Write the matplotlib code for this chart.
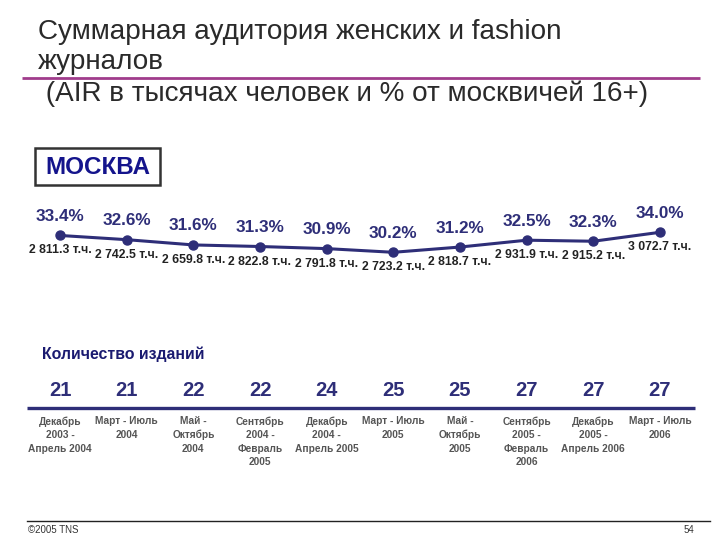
import matplotlib
matplotlib.use("Agg")
import matplotlib.pyplot as plt
from matplotlib.transforms import blended_transform_factory

plt.rcParams['font.family'] = ['Liberation Sans', 'DejaVu Sans']

# ---- data ----
share_pct = [33.4, 32.6, 31.6, 31.3, 30.9, 30.2, 31.2, 32.5, 32.3, 34.0]
audience_k = [2811.3, 2742.5, 2659.8, 2822.8, 2791.8, 2723.2, 2818.7, 2931.9, 2915.2, 3072.7]
issues = [21, 21, 22, 22, 24, 25, 25, 27, 27, 27]
periods = [
    "Декабрь\n2003 -\nАпрель 2004",
    "Март - Июль\n2004",
    "Май -\nОктябрь\n2004",
    "Сентябрь\n2004 -\nФевраль\n2005",
    "Декабрь\n2004 -\nАпрель 2005",
    "Март - Июль\n2005",
    "Май -\nОктябрь\n2005",
    "Сентябрь\n2005 -\nФевраль\n2006",
    "Декабрь\n2005 -\nАпрель 2006",
    "Март - Июль\n2006",
]
title_lines = ["Суммарная аудитория женских и fashion", "журналов",
               " (AIR в тысячах человек и % от москвичей 16+)"]

W, H = 720, 540
fig = plt.figure(figsize=(7.2, 5.4), dpi=100)
fig.patch.set_facecolor('white')

# overlay axes in pixel coordinates
ov = fig.add_axes([0, 0, 1, 1])
ov.set_xlim(0, W)
ov.set_ylim(H, 0)
ov.axis('off')

NAVY = '#2e2e78'
# title
title_y = [32, 62, 94]
for t, y in zip(title_lines, title_y):
    ov.text(38, y, t, fontsize=20.1, color='#2a2a2a', va='center', ha='left')
ov.plot([22, 700], [78, 78], color='#a03c8c', lw=2, solid_capstyle='butt')

# МОСКВА box
ov.add_patch(plt.Rectangle((35, 148), 125, 37, fill=False, ec='#333333', lw=1.8))
ov.text(98, 167, "МОСКВА", fontsize=17.5, fontweight='bold', color='#14148c',
        ha='center', va='center')

# line chart axes
x = list(range(len(share_pct)))
y_top_px, y_bot_px = 232.3, 252.3
ax = fig.add_axes([60 / W, 1 - y_bot_px / H, 600 / W, (y_bot_px - y_top_px) / H])
ax.set_xlim(0, len(share_pct) - 1)
ax.set_ylim(min(share_pct), max(share_pct))
ax.axis('off')
ax.plot(x, share_pct, color=NAVY, lw=2.2, marker='o', markersize=6.5,
        markerfacecolor=NAVY, markeredgecolor=NAVY, clip_on=False)
for xi, p, a in zip(x, share_pct, audience_k):
    ax.annotate(f"{p:.1f}%", (xi, p), xytext=(0, 19), textcoords='offset pixels',
                ha='center', va='center', fontsize=12.3, fontweight='bold', color=NAVY)
    s = f"{a:,.1f}".replace(",", " ") + " т.ч."
    ax.annotate(s, (xi, p), xytext=(0, -15), textcoords='offset pixels',
                ha='center', va='center', fontsize=8.8, fontweight='bold', color='#222222')

# bottom section
ov.text(42, 354, "Количество изданий", fontsize=11.4, fontweight='bold', color='#1a1a70',
        ha='left', va='center')
bt = blended_transform_factory(ax.transData, ov.transData)
for xi, n, per in zip(x, issues, periods):
    fig.text(xi, 390, str(n), transform=bt, fontsize=14.5, fontweight='bold', color=NAVY,
             ha='center', va='center')
    fig.text(xi, 416, per, transform=bt, fontsize=7.3, fontweight='bold', color='#555555',
             ha='center', va='top', linespacing=1.45)
ov.plot([27, 695], [408, 408], color=NAVY, lw=2.4, solid_capstyle='butt')

# footer
ov.plot([27, 710], [521, 521], color='#222222', lw=1)
ov.text(28, 530, "©2005 TNS", fontsize=7, color='#333333', ha='left', va='center')
ov.text(694, 530, "54", fontsize=7, color='#333333', ha='right', va='center')

fig.savefig("out.png", dpi=100)
